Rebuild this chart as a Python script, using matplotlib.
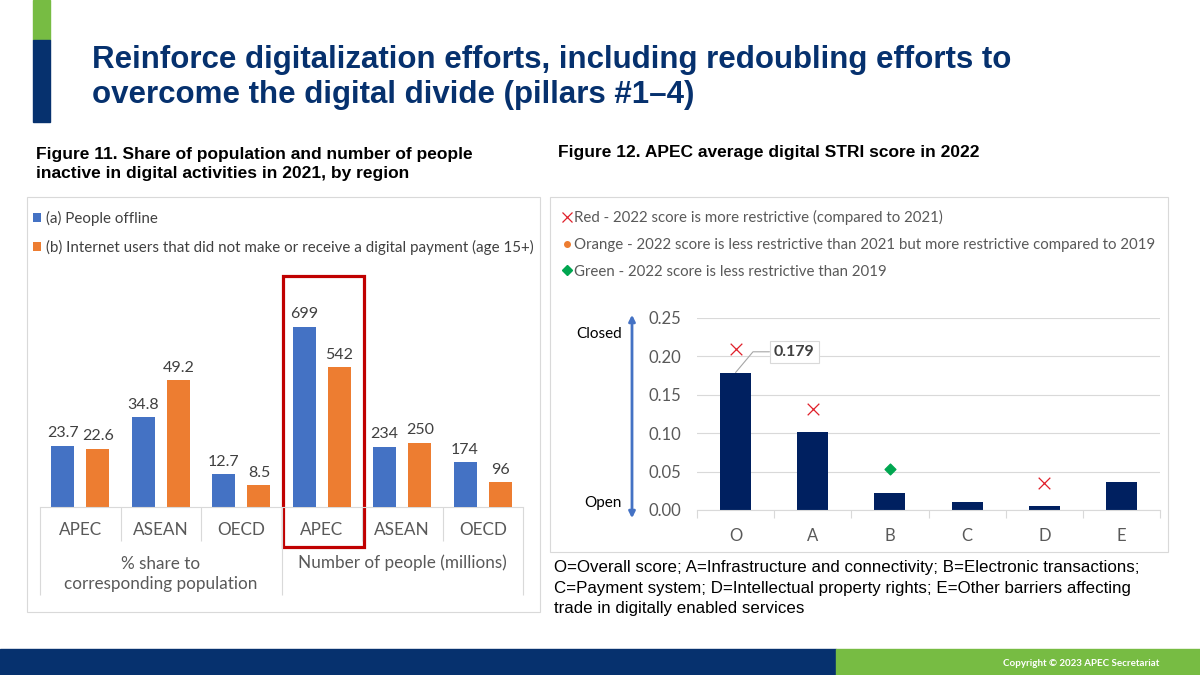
import matplotlib
matplotlib.use("Agg")
import matplotlib.pyplot as plt
from matplotlib.patches import Rectangle, FancyArrowPatch
from matplotlib.lines import Line2D
from matplotlib import transforms

# ---- data -------------------------------------------------------------
regions = ["APEC", "ASEAN", "OECD"]
share_offline = [23.7, 34.8, 12.7]          # % share, (a) people offline
share_nopay = [22.6, 49.2, 8.5]             # % share, (b) no digital payment
people_offline = [699, 234, 174]            # millions, (a)
people_nopay = [542, 250, 96]               # millions, (b)
group_labels = ["% share to\ncorresponding population", "Number of people (millions)"]
series_labels = ["(a) People offline",
                 "(b) Internet users that did not make or receive a digital payment (age 15+)"]

stri_cats = ["O", "A", "B", "C", "D", "E"]
stri_2022 = [0.179, 0.101, 0.022, 0.010, 0.005, 0.037]
red_x = {"O": 0.209, "A": 0.131, "D": 0.035}
green_d = {"B": 0.053}
stri_ticks = [0.00, 0.05, 0.10, 0.15, 0.20, 0.25]

# ---- style ------------------------------------------------------------
W, H = 1200, 675
NAVY = "#06316E"
GREEN = "#77BC43"
BLUE = "#4472C4"
ORANGE = "#ED7D31"
BAR_NAVY = "#002060"
GRID = "#D9D9D9"
TXT = "#595959"
VAL = "#404040"
CHART_FONT = "Lato"
SLIDE_FONT = "Liberation Sans"


def fx(x):
    return x / W


def fy(y):
    return 1 - y / H


def box(l, t, r, b):
    # axes rect from pixel edges
    return [fx(l), fy(b), fx(r) - fx(l), fy(t) - fy(b)]


fig = plt.figure(figsize=(12, 6.75), dpi=100)
fig.patch.set_facecolor("white")

# slide decorations
fig.add_artist(Rectangle((fx(33), fy(40)), fx(17), 40 / H, color=GREEN,
                         transform=fig.transFigure))
fig.add_artist(Rectangle((fx(33), fy(122)), fx(17), 82 / H, color=NAVY,
                         transform=fig.transFigure))
fig.add_artist(Rectangle((0, 0), fx(836), 26 / H, color=NAVY,
                         transform=fig.transFigure))
fig.add_artist(Rectangle((fx(836), 0), 1 - fx(836), 26 / H, color=GREEN,
                         transform=fig.transFigure))
fig.text(fx(1159), fy(663), "Copyright \u00a9 2023 APEC Secretariat", color="white",
         fontsize=7, fontweight="bold", family=CHART_FONT, ha="right", va="center")

fig.text(fx(92), fy(60), "Reinforce digitalization efforts, including redoubling efforts to",
         color=NAVY, fontsize=22.5, fontweight="bold", family=SLIDE_FONT, va="center")
fig.text(fx(92), fy(95), "overcome the digital divide (pillars #1\u20134)",
         color=NAVY, fontsize=22.5, fontweight="bold", family=SLIDE_FONT, va="center")

fig.text(fx(36), fy(164), "Figure 11. Share of population and number of people\n"
         "inactive in digital activities in 2021, by region",
         color="black", fontsize=12.5, fontweight="bold", family=SLIDE_FONT,
         va="center", linespacing=1.4)
fig.text(fx(558), fy(153), "Figure 12. APEC average digital STRI score in 2022",
         color="black", fontsize=12.5, fontweight="bold", family=SLIDE_FONT, va="center")

# chart frames
fig.add_artist(Rectangle((fx(27), fy(612)), fx(513), 415 / H, fill=False,
                         edgecolor=GRID, lw=0.8, transform=fig.transFigure))
fig.add_artist(Rectangle((fx(550), fy(552)), fx(618), 355 / H, fill=False,
                         edgecolor=GRID, lw=0.8, transform=fig.transFigure))

# ---- Figure 11 --------------------------------------------------------
ax = fig.add_axes(box(40, 275.3, 523, 507))
ax2 = ax.twinx()
n = len(regions)
pos_l = list(range(n))
pos_r = [p + n for p in pos_l]
bw, off = 0.285, 0.22

b1 = ax.bar([p - off for p in pos_l], share_offline, bw, color=BLUE, label=series_labels[0])
b2 = ax.bar([p + off for p in pos_l], share_nopay, bw, color=ORANGE, label=series_labels[1])
b3 = ax2.bar([p - off for p in pos_r], people_offline, bw, color=BLUE)
b4 = ax2.bar([p + off for p in pos_r], people_nopay, bw, color=ORANGE)

for bars, vals, a, fmt in [(b1, share_offline, ax, "{:.1f}"), (b2, share_nopay, ax, "{:.1f}"),
                           (b3, people_offline, ax2, "{:d}"), (b4, people_nopay, ax2, "{:d}")]:
    for r, v in zip(bars, vals):
        a.annotate(fmt.format(v), (r.get_x() + r.get_width() / 2, v), xytext=(0, 4),
                   textcoords="offset points", ha="center", va="bottom",
                   fontsize=11.5, color=VAL, family=CHART_FONT, clip_on=False)

ax.set_ylim(0, 90)
ax2.set_ylim(0, 900)
ax.set_xlim(-0.5, 2 * n - 0.5)
for a in (ax, ax2):
    a.set_yticks([])
    for s in a.spines.values():
        s.set_visible(False)
ax.spines["bottom"].set_visible(True)
ax.spines["bottom"].set_color(GRID)
ax.spines["bottom"].set_linewidth(0.8)
ax.set_xticks([0.5, 1.5, 3.5, 4.5])
ax.set_xticks([-0.5, 2.5, 5.5], minor=True)
ax.set_xticklabels([])
ax.tick_params(axis="x", which="major", length=34 * 0.72, color=GRID, width=0.8)
ax.tick_params(axis="x", which="minor", length=88 * 0.72, color=GRID, width=0.8)

tr = transforms.blended_transform_factory(ax.transData, fig.transFigure)
for p, name in zip(pos_l + pos_r, regions + regions):
    ax.text(p, fy(530), name, transform=tr, ha="center", va="center",
            fontsize=12.3, color=TXT, family=CHART_FONT)
ax.text((n - 1) / 2, fy(574), group_labels[0], transform=tr, ha="center", va="center",
        fontsize=12.3, color=TXT, family=CHART_FONT, linespacing=1.3)
ax.text(n + (n - 1) / 2, fy(563), group_labels[1], transform=tr, ha="center", va="center",
        fontsize=12.3, color=TXT, family=CHART_FONT)

# highlight box around APEC (millions)
ax.add_patch(Rectangle((2.52, fy(547)), 1.0, (547 - 276) / H, transform=tr,
                       fill=False, edgecolor="#C00000", lw=2.3, clip_on=False))

leg = ax.legend(handles=[b1, b2], loc="upper left", bbox_to_anchor=(fx(33), fy(211)),
                bbox_transform=fig.transFigure, frameon=False,
                prop={"family": CHART_FONT, "size": 10.9}, handlelength=0.5,
                handleheight=0.5, handletextpad=0.35, labelspacing=0.9, borderpad=0,
                borderaxespad=0)
for t in leg.get_texts():
    t.set_color(VAL)

# ---- Figure 12 --------------------------------------------------------
bx = fig.add_axes(box(697, 318, 1160, 510))
xs = list(range(len(stri_cats)))
bars = bx.bar(xs, stri_2022, 0.4, color=BAR_NAVY, zorder=2)
rx = [stri_cats.index(k) for k in red_x]
bx.scatter(rx, list(red_x.values()), marker="x", s=70, color="#E0202A", lw=0.9, zorder=3)
gx = [stri_cats.index(k) for k in green_d]
bx.scatter(gx, list(green_d.values()), marker="D", s=30, color="#00A650", zorder=3)

bx.set_ylim(0, 0.25)
bx.set_xlim(-0.5, len(stri_cats) - 0.5)
bx.set_yticks(stri_ticks)
bx.set_yticklabels([f"{t:.2f}" for t in stri_ticks], family=CHART_FONT, fontsize=12, color=TXT)
bx.set_xticks(xs)
bx.set_xticklabels(stri_cats, family=CHART_FONT, fontsize=12, color=TXT)
bx.set_xticks([x + 0.5 for x in [-1] + xs], minor=True)
bx.tick_params(axis="y", length=0, pad=11)
bx.tick_params(axis="x", which="major", length=0, pad=13)
bx.tick_params(axis="x", which="minor", length=6, color=GRID, width=0.8)
bx.grid(axis="y", color=GRID, lw=0.8, zorder=0)
bx.set_axisbelow(True)
for s in ["top", "left", "right"]:
    bx.spines[s].set_visible(False)
bx.spines["bottom"].set_color(GRID)
bx.spines["bottom"].set_linewidth(0.8)

bx.annotate(f"{stri_2022[0]:.3f}", (0, stri_2022[0]), xytext=(0.76, 0.206),
            ha="center", va="center", fontsize=11.5, fontweight="bold", color=VAL,
            family=CHART_FONT,
            bbox=dict(boxstyle="square,pad=0.25", fc="white", ec=GRID, lw=0.8),
            arrowprops=dict(arrowstyle="-", color="#A6A6A6", lw=0.8,
                            connectionstyle="angle,angleA=0,angleB=50,rad=0",
                            shrinkA=0, shrinkB=0))

# closed / open arrow
fig.add_artist(FancyArrowPatch((fx(632), fy(521)), (fx(632), fy(312)),
                               transform=fig.transFigure, arrowstyle="<|-|>",
                               mutation_scale=9, color=BLUE, lw=2))
fig.text(fx(622), fy(334), "Closed", ha="right", va="center", fontsize=11,
         family=CHART_FONT, color="black")
fig.text(fx(622), fy(503), "Open", ha="right", va="center", fontsize=11,
         family=CHART_FONT, color="black")

handles = [Line2D([], [], ls="none", marker="x", color="#E0202A", ms=7, mew=0.9),
           Line2D([], [], ls="none", marker="o", color=ORANGE, ms=4),
           Line2D([], [], ls="none", marker="D", color="#00A650", ms=5)]
labels = ["Red - 2022 score is more restrictive (compared to 2021)",
          "Orange - 2022 score is less restrictive than 2021 but more restrictive compared to 2019",
          "Green - 2022 score is less restrictive than 2019"]
leg2 = bx.legend(handles, labels, loc="upper left", bbox_to_anchor=(fx(562), fy(210)),
                 bbox_transform=fig.transFigure, frameon=False,
                 prop={"family": CHART_FONT, "size": 10.8}, handlelength=0.6,
                 handletextpad=0.2, labelspacing=0.85, borderpad=0, borderaxespad=0)
for t in leg2.get_texts():
    t.set_color(TXT)

fig.text(fx(554), fy(588), "O=Overall score; A=Infrastructure and connectivity; B=Electronic transactions;\n"
         "C=Payment system; D=Intellectual property rights; E=Other barriers affecting\n"
         "trade in digitally enabled services",
         ha="left", va="center", fontsize=12.2, family=SLIDE_FONT, color="black",
         linespacing=1.45)

fig.savefig("out.png", dpi=100)
